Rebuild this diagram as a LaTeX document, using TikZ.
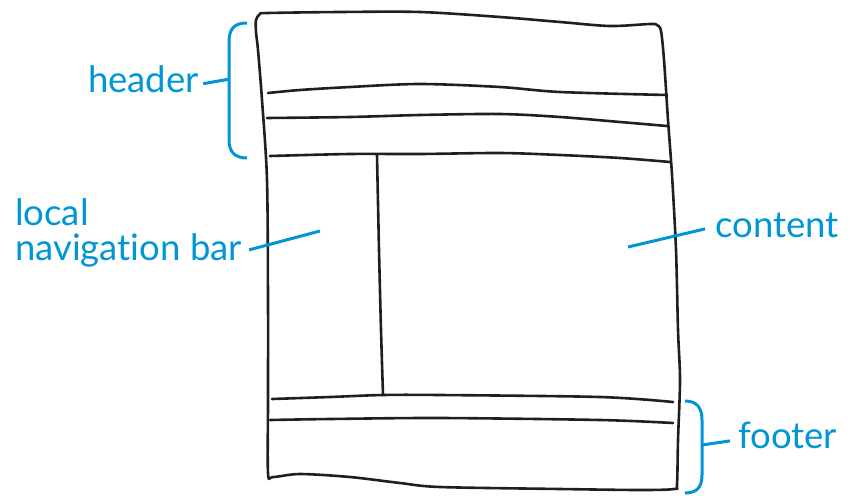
\documentclass[tikz,border=0pt]{standalone}
\usepackage{fontspec}
\setmainfont{Lato}[Ligatures={NoCommon,NoRequired,NoContextual}]
\definecolor{lblue}{RGB}{0,150,214}
\begin{document}
\begin{tikzpicture}[x=1pt,y=-1pt,
  ink/.style={line width=2.6pt, line cap=round, line join=round, black!88},
  blueln/.style={line width=3pt, lblue},
  lbl/.style={font=\fontsize{36.5}{36}\selectfont, text=lblue, inner sep=0pt, anchor=base west}]
\useasboundingbox (0,0) rectangle (850,495);
% outer frame
\draw[ink] plot[smooth cycle, tension=0.5] coordinates {
  (256,20) (260,14) (268,13) (340,12) (420,12) (500,17) (560,22) (610,26) (650,24) (657,25) (661,31)
  (664,60) (668,120) (672,175) (676,250) (678,330) (680,380) (678,440) (677,484) (674,489)
  (640,490) (560,489) (440,487) (400,483) (350,477) (300,474) (273,477) (268,473)
  (268,400) (268,300) (267,180) (262,100) (258,50) (256,32)};
% header rows
\draw[ink] plot[smooth, tension=0.5] coordinates {(268,93) (300,90) (350,87) (420,84) (500,87) (560,92) (667,95)};
\draw[ink] plot[smooth, tension=0.5] coordinates {(267,118) (350,117) (420,115) (500,114) (560,117) (620,122) (667,126)};
\draw[ink] plot[smooth, tension=0.5] coordinates {(270,156) (350,154) (420,154) (500,153) (560,155) (620,158) (670,162)};
% navigation divider
\draw[ink] plot[smooth, tension=0.5] coordinates {(377,155) (379,250) (381,330) (383,395)};
% footer rows
\draw[ink] plot[smooth, tension=0.5] coordinates {(272,399) (330,397) (383,395) (440,395) (600,397) (673,402)};
\draw[ink] plot[smooth, tension=0.5] coordinates {(270,420) (330,419) (440,418) (600,420) (673,423)};

% labels
\node[lbl] (header) at (88,92) {header};
\node[lbl] (local) at (15,225) {local};
\node[lbl] (nav) at (15,260) {navigation bar};
\node[lbl] (content) at (715,237) {content};
\node[lbl] (footer) at (738,448) {footer};

% braces
\draw[blueln] (247,23) .. controls (235,23) and (229,28) .. (229,42) -- (229,140) .. controls (229,152) and (235,158) .. (247,158);
\draw[blueln] (685,401) .. controls (697,401) and (702,408) .. (702,420) -- (702,475) .. controls (702,487) and (697,493) .. (685,493);

% connectors
\coordinate (hb) at (230,79);
\coordinate (navpt) at (320,231);
\coordinate (cpt) at (628,247);
\coordinate (fb) at (702,445);
\draw[blueln] ([xshift=4pt,yshift=-5pt]header.east) -- (hb);
\draw[blueln] ([xshift=7pt]nav.east) -- (navpt);
\draw[blueln] (cpt) -- ([xshift=-10pt,yshift=-4pt]content.west);
\draw[blueln] (fb) -- ([xshift=-8pt,yshift=-6pt]footer.west);
\end{tikzpicture}
\end{document}
